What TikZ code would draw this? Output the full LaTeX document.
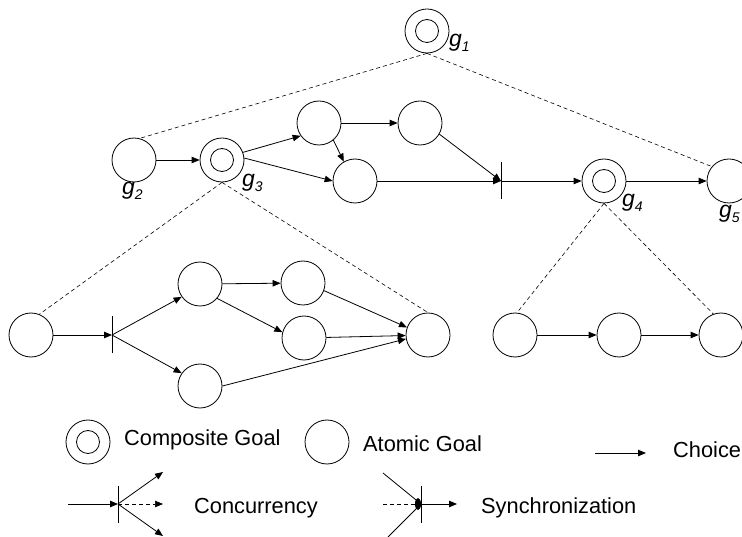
\documentclass[tikz,border=0pt]{standalone}
\usepackage{fontspec}
\setmainfont{Liberation Sans}
\usetikzlibrary{arrows.meta}
\tikzset{
 goal/.style={circle,draw,line width=0.8pt,minimum size=44pt,inner sep=0pt},
 cgoal/.style={goal,path picture={\draw[line width=0.8pt] (path picture bounding box.center) circle (11.5pt);}},
 arr/.style={line width=0.8pt,-{Triangle[length=8pt,width=6.5pt]}},
 dline/.style={dash pattern=on 4pt off 3pt,line width=0.6pt},
 barnode/.style={minimum height=37pt,minimum width=0pt,inner sep=0pt,outer sep=0pt},
 barline/.style={line width=0.9pt},
 lbl/.style={anchor=base west,inner sep=0pt,font=\fontsize{21.8}{24}\selectfont},
 glbl/.style={anchor=base west,inner sep=0pt,font=\fontsize{23}{24}\selectfont\itshape},
}
\newcommand{\gsub}[1]{g\raisebox{-5pt}{\fontsize{14}{14}\selectfont #1}}
\begin{document}
\begin{tikzpicture}[x=1pt,y=-1pt]
\useasboundingbox (0,0) rectangle (742,537);
% top level
\node[cgoal] (g1) at (427,31) {};
\node[goal] (g2) at (134,160) {};
\node[cgoal] (g3) at (222,160) {};
\node[goal] (a1) at (319,123) {};
\node[goal] (b1) at (420,123) {};
\node[goal] (c1) at (355,181) {};
\node[barnode] (s1) at (501,181) {};
\node[cgoal] (g4) at (604,181) {};
\node[goal] (g5) at (729,181) {};
\node[glbl] (lg1) at (449,47) {\gsub{1}};
\node[glbl] (lg2) at (122,195) {\gsub{2}};
\node[glbl] (lg3) at (242,187) {\gsub{3}};
\node[glbl] (lg4) at (622,207) {\gsub{4}};
\node[glbl] (lg5) at (719,218) {\gsub{5}};
\draw[barline] (s1.north) -- (s1.south);
\draw[dline] (g1.south) -- (g2.75);
\draw[dline] (g1.south) -- (g5.140);
\draw[arr] (g2) -- (g3);
\draw[arr] (g3.20) -- (a1.215);
\draw[arr] (g3.5) -- (c1.west);
\draw[arr] (a1) -- (b1);
\draw[arr] (a1.310) -- (c1.120);
\draw[arr] (b1.330) -- (s1.center);
\draw[arr] (c1) -- (s1.center);
\draw[arr] (s1.center) -- (g4);
\draw[arr] (g4) -- (g5);
% lower left
\node[goal] (l0) at (31,335) {};
\node[barnode] (s2) at (112,335) {};
\node[goal] (l1) at (200,284) {};
\node[goal] (l2) at (303,283) {};
\node[goal] (l3) at (304,338) {};
\node[goal] (l4) at (200,386) {};
\node[goal] (l5) at (428,335) {};
\draw[barline] (s2.north) -- (s2.south);
\draw[dline] (g3.south) -- (l0.68);
\draw[dline] (g3.south) -- (l5.north);
\draw[arr] (l0) -- (s2.center);
\draw[arr] (s2.center) -- (l1.215);
\draw[arr] (s2.center) -- (l4.145);
\draw[arr] (l1) -- (l2);
\draw[arr] (l1.320) -- (l3.165);
\draw[arr] (l2.340) -- (l5.160);
\draw[arr] (l3) -- (l5);
\draw[arr] (l4.east) -- (l5.190);
% lower right
\node[goal] (r0) at (515,335) {};
\node[goal] (r1) at (619,335) {};
\node[goal] (r2) at (721,335) {};
\draw[dline] (g4.south) -- (r0.85);
\draw[dline] (g4.south) -- (r2.110);
\draw[arr] (r0) -- (r1);
\draw[arr] (r1) -- (r2);
% legend
\node[cgoal] (kc) at (88,442) {};
\node[lbl] (tc) at (124,446) {Composite Goal};
\node[goal] (ka) at (327,442) {};
\node[lbl] (ta) at (363,451) {Atomic Goal};
\coordinate (ch0) at (595,453);
\coordinate (ch1) at (646,453);
\draw[arr] (ch0) -- (ch1);
\node[lbl] (tch) at (673,457) {Choice};
% concurrency legend
\coordinate (cin) at (68,504);
\node[barnode] (cb) at (118,504) {};
\coordinate (cu) at (163,472);
\coordinate (cm) at (163,504);
\coordinate (cd) at (163,536);
\draw[barline] (cb.north) -- (cb.south);
\draw[arr] (cin) -- (cb.center);
\draw[arr] (cb.center) -- (cu);
\draw[arr,dline] (cb.center) -- (cm);
\draw[arr] (cb.center) -- (cd);
\node[lbl] (tco) at (194,513) {Concurrency};
% synchronization legend
\coordinate (su) at (383,473);
\coordinate (sm) at (383,504);
\coordinate (sd) at (388,537);
\node[barnode] (sb) at (421,504) {};
\coordinate (so) at (457,504);
\draw[line width=0.8pt] (su) -- (sb.center);
\draw[dline] (sm) -- (sb.center);
\draw[line width=0.8pt] (sd) -- (sb.center);
\fill ([xshift=-3pt]sb.center) ellipse (3pt and 6pt);
\draw[barline] (sb.north) -- (sb.south);
\draw[arr] (sb.center) -- (so);
\node[lbl] (tsy) at (481,513) {Synchronization};
\end{tikzpicture}
\end{document}
